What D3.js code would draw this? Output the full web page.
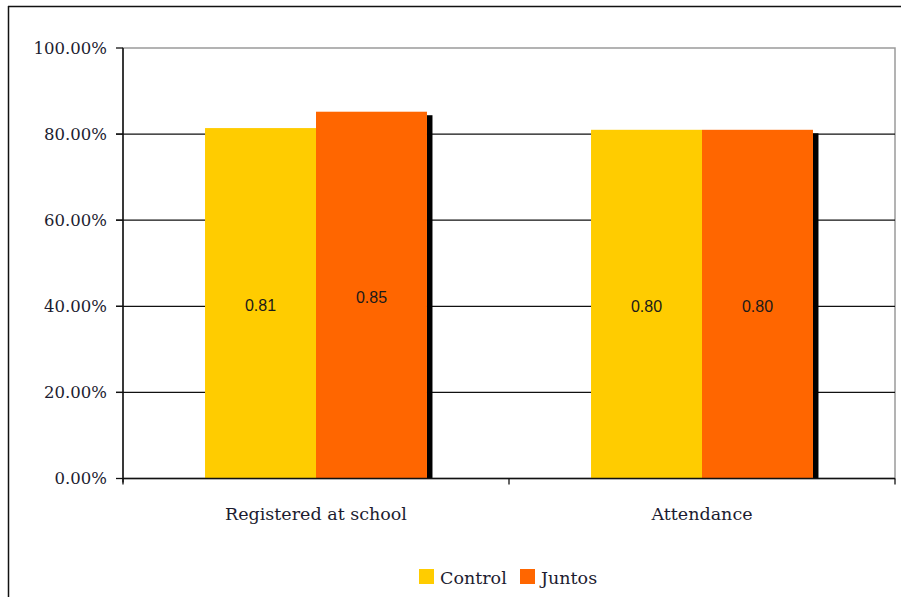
<!DOCTYPE html>
<html><head><meta charset="utf-8">
<script src="https://cdn.jsdelivr.net/npm/d3@7"></script>
<style>body{margin:0;background:#fff;}svg{display:block;}</style>
</head><body>
<svg id="c" width="901" height="597"></svg>
<script>
const categories = ["Registered at school", "Attendance"];
const seriesNames = ["Control", "Juntos"];
const controlValues = [0.814, 0.81];
const juntosValues = [0.852, 0.81];
const valueLabels = [["0.81", "0.85"], ["0.80", "0.80"]];
const yTicks = [0, 0.2, 0.4, 0.6, 0.8, 1.0];
const colors = ["#FFCC00", "#FF6600"];

const svg = d3.select("#c");
const serif = "'DejaVu Serif', serif";
const sans = "'Liberation Sans', Arial, sans-serif";

// outer frame
svg.append("line").attr("x1", 8).attr("x2", 901).attr("y1", 6.5).attr("y2", 6.5).attr("stroke", "#111").attr("stroke-width", 1.5);
svg.append("line").attr("x1", 8.5).attr("x2", 8.5).attr("y1", 6).attr("y2", 597).attr("stroke", "#111").attr("stroke-width", 1.5);

const L = 123, R = 895, T = 48, B = 478.5;
const x = d3.scaleBand().domain(categories).range([L, R]);
const y = d3.scaleLinear().domain([0, 1]).range([B, T]);
const inner = d3.scaleBand().domain(seriesNames).range([0, x.bandwidth() * 0.575]);
const off = (x.bandwidth() - x.bandwidth() * 0.575) / 2;

// plot border (gray)
svg.append("rect").attr("x", L).attr("y", T).attr("width", R - L).attr("height", B - T)
  .attr("fill", "none").attr("stroke", "#9a9a9a").attr("stroke-width", 1.5);

// gridlines
svg.append("g").selectAll("line").data(yTicks.filter(d => d > 0 && d < 1)).join("line")
  .attr("x1", L - 7).attr("x2", R).attr("y1", d => y(d)).attr("y2", d => y(d))
  .attr("stroke", "#111").attr("stroke-width", 1.3);

const data = categories.map((c, i) => ({cat: c, vals: [controlValues[i], juntosValues[i]], labels: valueLabels[i]}));

const g = svg.append("g");
data.forEach(d => {
  const xs = x(d.cat) + off;
  const last = inner(seriesNames[1]);
  g.append("rect").attr("x", xs + last + inner.bandwidth()).attr("y", y(d.vals[1]) + 3.5)
    .attr("width", 5.5).attr("height", B - y(d.vals[1]) - 3.5).attr("fill", "#000");
  seriesNames.forEach((s, j) => {
    g.append("rect").attr("x", xs + inner(s)).attr("y", y(d.vals[j]))
      .attr("width", inner.bandwidth()).attr("height", B - y(d.vals[j])).attr("fill", colors[j]);
    g.append("text").attr("x", xs + inner(s) + inner.bandwidth() / 2)
      .attr("y", (y(d.vals[j]) + B) / 2 + 2).attr("dy", "0.35em").attr("text-anchor", "middle")
      .attr("font-family", sans).attr("font-size", 16).attr("fill", "#1a1a1a").text(d.labels[j]);
  });
});

// y axis
svg.append("line").attr("x1", L).attr("x2", L).attr("y1", T).attr("y2", B + 4).attr("stroke", "#111").attr("stroke-width", 1.5);
svg.append("g").selectAll("line").data(yTicks).join("line")
  .attr("x1", L - 7).attr("x2", L).attr("y1", d => y(d)).attr("y2", d => y(d)).attr("stroke", "#111").attr("stroke-width", 1.3);
svg.append("g").selectAll("text").data(yTicks).join("text")
  .attr("x", 107).attr("y", d => y(d)).attr("dy", "0.35em").attr("text-anchor", "end")
  .attr("font-family", serif).attr("font-size", 16.5).attr("fill", "#1c1c30")
  .text(d => d3.format(".2%")(d));

// x axis
svg.append("line").attr("x1", L).attr("x2", R).attr("y1", B).attr("y2", B).attr("stroke", "#111").attr("stroke-width", 1.5);
const xt = [L, ...categories.slice(1).map(c => x(c)), R];
svg.append("g").selectAll("line").data(xt).join("line")
  .attr("x1", d => d).attr("x2", d => d).attr("y1", B).attr("y2", B + 6).attr("stroke", "#111").attr("stroke-width", 1.3);
svg.append("g").selectAll("text").data(categories).join("text")
  .attr("x", d => x(d) + x.bandwidth() / 2).attr("y", 514).attr("dy", "0.35em").attr("text-anchor", "middle")
  .attr("font-family", serif).attr("font-size", 17.5).attr("fill", "#1c1c30").text(d => d);

// legend
const lg = svg.append("g");
const legendX = [419, 520];
seriesNames.forEach((s, i) => {
  lg.append("rect").attr("x", legendX[i]).attr("y", 569).attr("width", 15).attr("height", 15).attr("fill", colors[i]);
  lg.append("text").attr("x", legendX[i] + 21).attr("y", 578).attr("dy", "0.35em")
    .attr("font-family", serif).attr("font-size", 17.5).attr("fill", "#1c1c30").text(s);
});
</script>
</body></html>
